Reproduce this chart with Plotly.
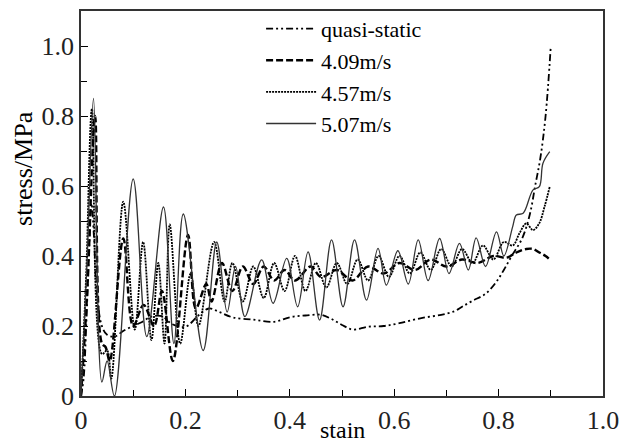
import plotly.graph_objects as go

# ---- data ----
qs_x = [0, 0.005, 0.01, 0.015, 0.02, 0.025, 0.03, 0.04, 0.05, 0.065, 0.08, 0.1, 0.115, 0.135,
        0.155, 0.175, 0.2, 0.225, 0.245, 0.265, 0.29, 0.33, 0.37, 0.4, 0.43, 0.46, 0.48, 0.5,
        0.52, 0.55, 0.58, 0.61, 0.65, 0.69, 0.715, 0.73, 0.75, 0.775, 0.795, 0.81, 0.825,
        0.845, 0.86, 0.87, 0.88, 0.89, 0.9]
qs_y = [0, 0.05, 0.2, 0.4, 0.55, 0.45, 0.3, 0.2, 0.175, 0.17, 0.185, 0.2, 0.21, 0.227,
        0.228, 0.205, 0.198, 0.23, 0.25, 0.24, 0.225, 0.218, 0.212, 0.225, 0.23, 0.232, 0.22, 0.203,
        0.19, 0.198, 0.2, 0.208, 0.222, 0.232, 0.242, 0.255, 0.272, 0.292, 0.325, 0.36, 0.4,
        0.45, 0.52, 0.6, 0.68, 0.8, 1.0]

v409_x = [0, 0.012, 0.027, 0.04, 0.047, 0.055, 0.081, 0.1, 0.12, 0.14, 0.155, 0.176, 0.205,
          0.22, 0.24, 0.25, 0.27, 0.29, 0.31, 0.33, 0.35, 0.37, 0.39, 0.41, 0.44, 0.46, 0.49,
          0.52, 0.55, 0.58, 0.61, 0.64, 0.67, 0.7, 0.73, 0.76, 0.79, 0.815, 0.834, 0.853,
          0.866, 0.878, 0.89, 0.898]
v409_y = [0, 0.3, 0.8, 0.15, 0.14, 0.1, 0.45, 0.2, 0.26, 0.2, 0.3, 0.1, 0.46,
          0.25, 0.32, 0.27, 0.38, 0.3, 0.37, 0.32, 0.37, 0.33, 0.36, 0.33, 0.37, 0.34, 0.36,
          0.33, 0.37, 0.35, 0.38, 0.36, 0.39, 0.37, 0.39, 0.38, 0.4, 0.395, 0.41, 0.42,
          0.42, 0.41, 0.4, 0.39]

v457_x = [0, 0.01, 0.021, 0.04, 0.05, 0.058, 0.081, 0.103, 0.119, 0.135, 0.148, 0.16, 0.17,
          0.19, 0.21, 0.225, 0.255, 0.275, 0.29, 0.31, 0.33, 0.35, 0.37, 0.39, 0.41, 0.43,
          0.45, 0.47, 0.49, 0.51, 0.53, 0.55, 0.57, 0.59, 0.61, 0.63, 0.65, 0.67, 0.69, 0.71,
          0.73, 0.75, 0.77, 0.79, 0.81, 0.827, 0.84, 0.853, 0.866, 0.878, 0.888, 0.898]
v457_y = [0, 0.35, 0.82, 0.12, 0.13, 0.05, 0.555, 0.19, 0.44, 0.16, 0.38, 0.15, 0.49,
          0.15, 0.35, 0.2, 0.44, 0.27, 0.38, 0.27, 0.37, 0.28, 0.38, 0.3, 0.4, 0.3,
          0.38, 0.31, 0.38, 0.32, 0.39, 0.33, 0.4, 0.34, 0.4, 0.35, 0.41, 0.36, 0.42, 0.37,
          0.42, 0.38, 0.43, 0.39, 0.44, 0.43, 0.465, 0.493, 0.474, 0.494, 0.541, 0.598]

v507_x = [0, 0.012, 0.024, 0.04, 0.05, 0.064, 0.1, 0.126, 0.158, 0.178, 0.196, 0.234, 0.26,
          0.28, 0.296, 0.314, 0.346, 0.368, 0.394, 0.415, 0.435, 0.457, 0.48, 0.502, 0.524,
          0.547, 0.569, 0.585, 0.607, 0.627, 0.646, 0.665, 0.687, 0.705, 0.725, 0.742, 0.757,
          0.775, 0.796, 0.81, 0.827, 0.834, 0.847, 0.866, 0.878, 0.885, 0.898]
v507_y = [0, 0.4, 0.85, 0.04, 0.1, 0.0, 0.62, 0.17, 0.54, 0.15, 0.52, 0.13, 0.44,
          0.24, 0.37, 0.227, 0.389, 0.265, 0.393, 0.255, 0.412, 0.217, 0.446, 0.255, 0.446,
          0.274, 0.422, 0.317, 0.415, 0.32, 0.446, 0.33, 0.45, 0.35, 0.436, 0.36, 0.452,
          0.37, 0.469, 0.40, 0.484, 0.517, 0.522, 0.589, 0.598, 0.665, 0.698]

names = ["quasi-static", "4.09m/s", "4.57m/s", "5.07m/s"]
x_ticks = [0, 0.2, 0.4, 0.6, 0.8, 1.0]
x_tick_text = ["0", "0.2", "0.4", "0.6", "0.8", "1.0"]
y_ticks = [0, 0.2, 0.4, 0.6, 0.8, 1.0]
y_tick_text = ["0", "0.2", "0.4", "0.6", "0.8", "1.0"]

FONT = "Liberation Serif, Times New Roman, DejaVu Serif, serif"

fig = go.Figure()
fig.add_trace(go.Scatter(x=qs_x, y=qs_y, name=names[0], mode="lines", line_shape="spline",
                         line=dict(color="black", width=1.8, dash="7px,3px,2px,3px,2px,3px")))
fig.add_trace(go.Scatter(x=v409_x, y=v409_y, name=names[1], mode="lines", line_shape="spline",
                         line=dict(color="black", width=2.4, dash="7px,3px")))
fig.add_trace(go.Scatter(x=v457_x, y=v457_y, name=names[2], mode="lines", line_shape="spline",
                         line=dict(color="black", width=1.8, dash="2px,1px")))
fig.add_trace(go.Scatter(x=v507_x, y=v507_y, name=names[3], mode="lines", line_shape="spline",
                         line=dict(color="#333333", width=1.3)))

fig.update_layout(
    width=635, height=446,
    margin=dict(l=81, r=32, t=11, b=50, autoexpand=False),
    paper_bgcolor="white", plot_bgcolor="white",
    font=dict(family=FONT, size=24, color="black"),
    showlegend=True,
    legend=dict(x=0.345, y=1.008, xanchor="left", yanchor="top",
                bgcolor="rgba(0,0,0,0)", borderwidth=0,
                font=dict(family=FONT, size=22, color="black"),
                itemwidth=50, tracegroupgap=0),
    xaxis=dict(range=[0, 1.0], tickvals=x_ticks, ticktext=x_tick_text,
               ticks="inside", ticklen=7, tickcolor="black", tickwidth=1,
               minor=dict(tickvals=[0.1, 0.3, 0.5, 0.7, 0.9], ticks="inside", ticklen=6,
                          tickcolor="black"),
               showline=True, linecolor="#333", linewidth=1.5, mirror=True,
               showgrid=False, zeroline=False,
               tickfont=dict(family=FONT, size=26, color="#222")),
    yaxis=dict(range=[0, 1.1], tickvals=y_ticks, ticktext=y_tick_text,
               ticks="inside", ticklen=7, tickcolor="black", tickwidth=1,
               minor=dict(tickvals=[0.1, 0.3, 0.5, 0.7, 0.9], ticks="inside", ticklen=6,
                          tickcolor="black"),
               showline=True, linecolor="#333", linewidth=1.5, mirror=True,
               showgrid=False, zeroline=False,
               tickfont=dict(family=FONT, size=26, color="#222")),
    annotations=[
        dict(text="stain", xref="paper", yref="paper", x=0.5, y=-0.05,
             xanchor="center", yanchor="top", showarrow=False,
             font=dict(family=FONT, size=24, color="black")),
        dict(text="stress/MPa", xref="paper", yref="paper", x=-0.109, y=0.59,
             xanchor="center", yanchor="middle", textangle=-90, showarrow=False,
             font=dict(family=FONT, size=26, color="black")),
    ],
)

fig.write_html("out.html", config={"displayModeBar": False},
               post_script="document.body.style.margin='0';document.body.style.overflow='hidden';")
